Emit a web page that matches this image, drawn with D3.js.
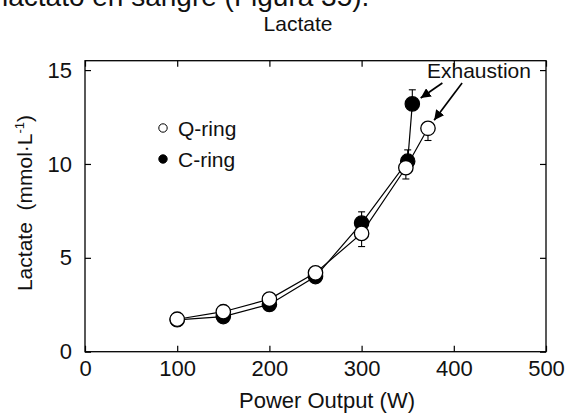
<!DOCTYPE html>
<html>
<head>
<meta charset="utf-8">
<script src="https://cdn.jsdelivr.net/npm/d3@7/dist/d3.min.js"></script>
<style>
  html, body { margin: 0; padding: 0; background: #fff; overflow: hidden; }
  svg { display: block; font-family: "Liberation Sans", Arial, Helvetica, sans-serif; }
</style>
</head>
<body>
<svg id="chart" width="569" height="417"></svg>
<script>
// Blood lactate vs. power output, Q-ring and C-ring
const qPower   = [100, 150, 200, 250, 300, 348, 372];
const qLactate = [1.73, 2.13, 2.8, 4.2, 6.3, 9.8, 11.9];
const qErrLow  = [0, 0, 0, 0, 0.7, 0.6, 0.65];

const cPower   = [100, 150, 200, 250, 300, 350, 355];
const cLactate = [1.7, 1.87, 2.52, 4.0, 6.85, 10.15, 13.2];
const cErrHigh = [0, 0, 0, 0, 0.6, 0.6, 0.75];

const xTicks = [0, 100, 200, 300, 400, 500];
const yTicks = [0, 5, 10, 15];

const svg = d3.select("#chart");
const x = d3.scaleLinear().domain([0, 500]).range([85, 546]);
const y = d3.scaleLinear().domain([0, 15.5]).range([351.7, 60.7]);

// caption line of the surrounding text, mostly above the view
svg.append("text").attr("x", 2).attr("y", 6)
  .attr("font-size", 28).attr("fill", "#111")
  .text("lactato en sangre (Figura 35).");

svg.append("text").attr("x", 298).attr("y", 30.5)
  .attr("text-anchor", "middle").attr("font-size", 21).attr("fill", "#111")
  .text("Lactate");

// frame
const [x0, x1] = x.range();
const [yb, yt] = y.range();
svg.append("rect").attr("x", x0).attr("y", yt)
  .attr("width", x1 - x0).attr("height", yb - yt)
  .attr("fill", "none").attr("stroke", "#000").attr("stroke-width", 1.3);

// inward ticks on all four sides
const tl = 6;
svg.append("g").attr("transform", `translate(0,${yb})`)
  .call(d3.axisBottom(x).tickValues(xTicks).tickSizeInner(-tl).tickSizeOuter(0).tickPadding(9))
  .call(g => g.select(".domain").remove())
  .call(g => g.selectAll("text").attr("font-size", 22).attr("fill", "#111").attr("font-family", null))
  .call(g => g.selectAll("line").attr("stroke-width", 1.2));
svg.append("g").attr("transform", `translate(0,${yt})`)
  .call(d3.axisTop(x).tickValues(xTicks).tickSizeInner(-tl).tickSizeOuter(0).tickFormat(""))
  .call(g => g.select(".domain").remove())
  .call(g => g.selectAll("line").attr("stroke-width", 1.2));
svg.append("g").attr("transform", `translate(${x0},0)`)
  .call(d3.axisLeft(y).tickValues(yTicks).tickSizeInner(-tl).tickSizeOuter(0).tickPadding(13))
  .call(g => g.select(".domain").remove())
  .call(g => g.selectAll("text").attr("font-size", 22).attr("fill", "#111").attr("font-family", null))
  .call(g => g.selectAll("line").attr("stroke-width", 1.2));
svg.append("g").attr("transform", `translate(${x1},0)`)
  .call(d3.axisRight(y).tickValues(yTicks).tickSizeInner(-tl).tickSizeOuter(0).tickFormat(""))
  .call(g => g.select(".domain").remove())
  .call(g => g.selectAll("line").attr("stroke-width", 1.2));

// axis titles
svg.append("text").attr("x", 327).attr("y", 408)
  .attr("text-anchor", "middle").attr("font-size", 22).attr("fill", "#111")
  .text("Power Output (W)");
const yl = svg.append("text")
  .attr("transform", "translate(32,203) rotate(-90)")
  .attr("text-anchor", "middle").attr("font-size", 21).attr("fill", "#111");
yl.append("tspan").text("Lactate\u00A0 (mmol\u00B7L");
yl.append("tspan").attr("font-size", 13).attr("dy", -8).text("-1");
yl.append("tspan").attr("dy", 8).text(")");

const qData = qPower.map((p, i) => ({ p, v: qLactate[i], e: qErrLow[i] }));
const cData = cPower.map((p, i) => ({ p, v: cLactate[i], e: cErrHigh[i] }));
const line = d3.line().x(d => x(d.p)).y(d => y(d.v));

// connecting lines
svg.append("path").datum(cData).attr("d", line)
  .attr("fill", "none").attr("stroke", "#000").attr("stroke-width", 1.2);
svg.append("path").datum(qData).attr("d", line)
  .attr("fill", "none").attr("stroke", "#000").attr("stroke-width", 1.2);

// error bars: C-ring upward, Q-ring downward
const cap = 3.5;
function errBars(data, dir) {
  const g = svg.append("g").attr("stroke", "#000").attr("stroke-width", 1.1);
  data.filter(d => d.e > 0).forEach(d => {
    const px = x(d.p), py = y(d.v), pe = y(d.v + dir * d.e);
    g.append("line").attr("x1", px).attr("x2", px).attr("y1", py).attr("y2", pe);
    g.append("line").attr("x1", px - cap).attr("x2", px + cap).attr("y1", pe).attr("y2", pe);
  });
}
errBars(cData, 1);
errBars(qData, -1);

// markers: filled C-ring under open Q-ring
const r = 7.2;
svg.append("g").selectAll("circle").data(cData).join("circle")
  .attr("cx", d => x(d.p)).attr("cy", d => y(d.v)).attr("r", r)
  .attr("fill", "#000").attr("stroke", "#000").attr("stroke-width", 1.2);
svg.append("g").selectAll("circle").data(qData).join("circle")
  .attr("cx", d => x(d.p)).attr("cy", d => y(d.v)).attr("r", r)
  .attr("fill", "#fff").attr("stroke", "#000").attr("stroke-width", 1.3);

// legend
const legend = [
  { label: "Q-ring", fill: "#fff", ty: 128 },
  { label: "C-ring", fill: "#000", ty: 159 }
];
legend.forEach(l => {
  svg.append("circle").attr("cx", 163).attr("cy", l.ty).attr("r", 4.2)
    .attr("fill", l.fill).attr("stroke", "#000").attr("stroke-width", 1);
  svg.append("text").attr("x", 178).attr("y", l.ty + 7.5)
    .attr("font-size", 21).attr("fill", "#111").text(l.label);
});

// exhaustion annotation, arrows aimed at the last point of each series
svg.append("text").attr("x", 427).attr("y", 78)
  .attr("font-size", 21).attr("fill", "#111").text("Exhaustion");
const defs = svg.append("defs");
defs.append("marker").attr("id", "head").attr("viewBox", "0 0 10 10")
  .attr("refX", 10).attr("refY", 5).attr("markerWidth", 10).attr("markerHeight", 10)
  .attr("markerUnits", "userSpaceOnUse").attr("orient", "auto")
  .append("path").attr("d", "M0,0 L10,5 L0,10 Z").attr("fill", "#000");
const arrows = [
  { from: [387.6, 14.31], to: cData[cData.length - 1] },
  { from: [409.0, 14.31], to: qData[qData.length - 1] }
];
arrows.forEach(a => {
  const sx = x(a.from[0]), sy = y(a.from[1]);
  const tx = x(a.to.p), ty = y(a.to.v);
  const dx = tx - sx, dy = ty - sy, len = Math.hypot(dx, dy);
  const stop = len - (r + 3);
  svg.append("line").attr("x1", sx).attr("y1", sy)
    .attr("x2", sx + dx / len * stop).attr("y2", sy + dy / len * stop)
    .attr("stroke", "#000").attr("stroke-width", 1.7).attr("marker-end", "url(#head)");
});
</script>
</body>
</html>
